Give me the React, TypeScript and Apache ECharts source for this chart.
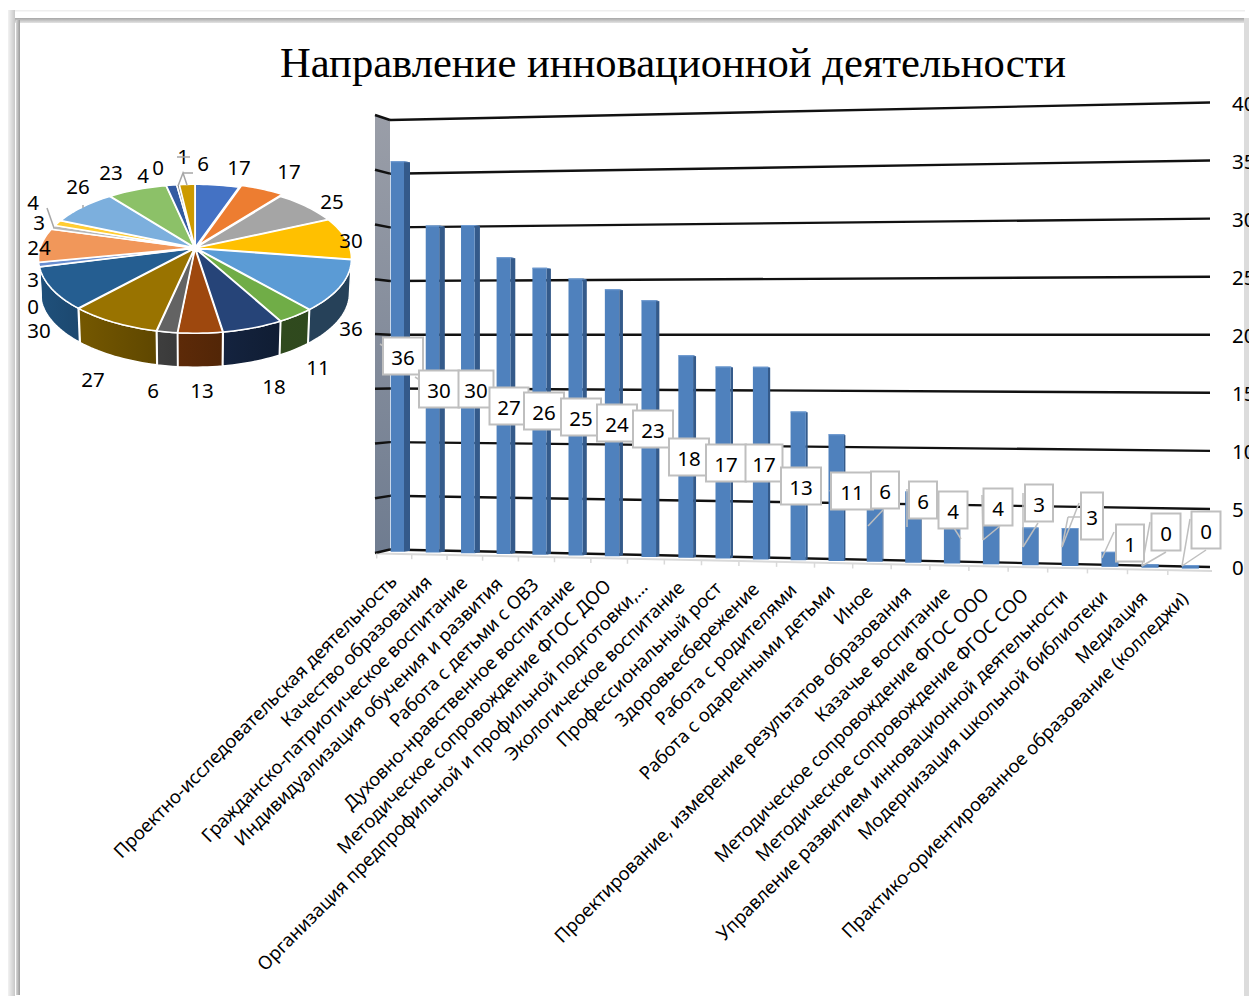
import React, { useEffect, useRef } from "react";
import * as echarts from "echarts";

const TITLE = "Направление инновационной деятельности";
const categories = [
  "Проектно-исследовательская деятельность",
  "Качество образования",
  "Гражданско-патриотическое воспитание",
  "Индивидуализация обучения и развития",
  "Работа с детьми с ОВЗ",
  "Духовно-нравственное воспитание",
  "Методическое сопровождение ФГОС ДОО",
  "Организация предпрофильной и профильной подготовки,…",
  "Экологическое воспитание",
  "Профессиональный рост",
  "Здоровьесбережение",
  "Работа с родителями",
  "Работа с одаренными детьми",
  "Иное",
  "Проектирование, измерение результатов образования",
  "Казачье воспитание",
  "Методическое сопровождение ФГОС ООО",
  "Методическое сопровождение ФГОС СОО",
  "Управление развитием инновационной деятельности",
  "Модернизация школьной библиотеки",
  "Медиация",
  "Практико-ориентированное образование (колледжи)",
];
const barValues = [36, 30, 30, 27, 26, 25, 24, 23, 18, 17, 17, 13, 11, 6, 6, 4, 4, 3, 3, 1, 0, 0];
const tickValues = [0, 5, 10, 15, 20, 25, 30, 35, 40];
const pieValues = [17, 17, 25, 30, 36, 11, 18, 13, 6, 27, 30, 0, 3, 24, 3, 4, 26, 23, 4, 0, 1, 6];
const pieColors = [
  "#4472C4", "#ED7D31", "#A5A5A5", "#FFC000", "#5B9BD5", "#70AD47", "#264478", "#9E480E", "#636363", "#997300", "#255E91",
  "#43682B", "#698ED0", "#F1975A", "#B7B7B7", "#FFCD33", "#7CAFDD", "#8CC168", "#335AA1", "#D26012", "#848484", "#CC9A00",
];

// layout of hand-placed label boxes (centre x, centre y, width, height)
const barLabelBoxes = [
  [403, 356, 40, 37], [439, 389, 40, 37], [476, 389, 35, 37], [509, 406, 39, 37], [544, 411, 40, 37], [581, 417, 40, 37],
  [617, 423, 40, 37], [653, 429, 40, 37], [689, 457, 40, 37], [726, 463, 40, 37], [764, 463, 37, 37], [801, 486, 40, 37],
  [852, 491, 42, 37], [885, 490, 28, 37], [923, 500, 28, 37], [953, 510, 29, 37], [998, 507, 29, 37], [1039, 503, 28, 37],
  [1092, 516, 22, 47], [1130, 543, 28, 37], [1166, 532, 29, 37], [1206, 530, 29, 37],
];
const barLeaders: number[][][] = [
  [[380, 344], [393, 352]], [[415, 377], [428, 385]], [[458, 380], [464, 384]], [[490, 387], [496, 392]], [[525, 398], [532, 402]],
  [[562, 404], [569, 408]], [[598, 410], [606, 414]], [[634, 416], [642, 420]], [[671, 446], [680, 451]], [[708, 452], [716, 458]],
  [[746, 452], [755, 458]], [[783, 474], [790, 478]], [[830, 490], [833, 498]],
  [[868, 526], [883, 510]], [[907, 527], [907, 489]], [[961, 539], [938, 503]], [[983, 540], [1000, 526]], [[982, 495], [983, 540]],
  [[1023, 547], [1038, 523]], [[1023, 493], [1023, 547]], [[1062, 547], [1079, 503]], [[1068, 517], [1081, 517]], [[1062, 547], [1068, 517]],
  [[1102, 558], [1114, 532]], [[1142, 566], [1166, 552]], [[1150, 522], [1142, 566]], [[1182, 566], [1206, 550]], [[1190, 519], [1182, 566]],
];
const pieLabelPos = [
  [239, 167], [289, 171], [332, 201], [351, 240], [351, 328], [318, 367], [274, 386], [202, 390], [153, 390], [93, 379], [39, 330],
  [33, 306], [33, 279], [39, 247], [39, 222], [33, 202], [78, 186], [111, 172], [143, 175], [158, 167], [183, 156], [203, 163],
];
const pieLeaders: number[][][] = [
  [[178, 186], [183, 173], [187, 185]], [[183, 173], [193, 173]], [[177, 157], [190, 157]], [[47, 208], [54, 228]], [[83, 205], [83, 208]],
];

const FONT = "'Noto Sans', sans-serif";
const GRID_L = 390, GRID_W = 820, GRID_T = 102.5, GRID_H = 464.5;
const LEFT_0 = 549.5, LEFT_40 = 120;
const RIGHT_0 = GRID_T + GRID_H;
const rgb = (hex: string, k: number) => {
  const n = parseInt(hex.slice(1), 16);
  return `rgb(${Math.round(((n >> 16) & 255) * k)},${Math.round(((n >> 8) & 255) * k)},${Math.round((n & 255) * k)})`;
};

// perspective of the bar chart's back wall: maps the value axis' pixel at the right end to a pixel at any x
const wallY = (x: number, yRight: number) => {
  const f = (RIGHT_0 - yRight) / GRID_H;
  const left = LEFT_0 + (LEFT_40 - LEFT_0) * f;
  const t = (x - GRID_L) / GRID_W;
  return left + (yRight - left) * t;
};
const slotOf = (u: number) => (u - GRID_L) / (GRID_W / categories.length) - 0.5;
const barX = (u: number) => {
  const s = slotOf(u);
  return 390.7 + 34.9 * s + 0.132 * s * s;
};

// pie projection
const PIE_CX = 195, PIE_CY = 248, PIE_A = 153, PIE_B = 72, PIE_K = 1 / 7, PIE_D = 34;
const total = pieValues.reduce((a, b) => a + b, 0);
const cum = pieValues.reduce<number[]>((acc, v) => [...acc, acc[acc.length - 1] + v], [0]);
const toAngle = (v: number) => (v / total) * Math.PI * 2;
const pt = (theta: number, r: number, ox = 0, oz = 0) => {
  const x = Math.sin(theta) * r + ox;
  const z = -Math.cos(theta) * r + oz;
  const s = 1 / (1 - PIE_K * z);
  return [PIE_CX + PIE_A * x * s, PIE_CY + PIE_B * z * s];
};
const arc = (a: number, b: number, r: number, ox = 0, oz = 0) => {
  const n = Math.max(2, Math.ceil((b - a) / 0.03));
  const out: number[][] = [];
  for (let i = 0; i <= n; i++) out.push(pt(a + ((b - a) * i) / n, r, ox, oz));
  return out;
};
const explodeOf = (i: number) => (i === 1 ? 0.05 : 0.012);
const frontFrom = (98 * Math.PI) / 180, frontTo = (262 * Math.PI) / 180;
const sideShade = (theta: number) => {
  const t = Math.min(1, Math.max(0, ((theta * 180) / Math.PI - 150) / 90));
  return 0.42 + 0.43 * t;
};

const renderPieSide = (params: any, api: any) => {
  const i = params.dataIndex;
  const a = toAngle(cum[i]), b = toAngle(cum[i + 1]);
  const s = Math.max(a, frontFrom), e = Math.min(b, frontTo);
  if (e <= s) return { type: "group", children: [] };
  const mid = (a + b) / 2;
  const ox = Math.sin(mid) * explodeOf(i), oz = -Math.cos(mid) * explodeOf(i);
  const top = arc(s, e, 1, ox, oz);
  const bottom = top.map((p) => [PIE_CX + (p[0] - PIE_CX) * 0.988, p[1] + PIE_D]).reverse();
  const c = pieColors[i];
  return {
    type: "polygon",
    shape: { points: [...top, ...bottom] },
    style: {
      fill: new echarts.graphic.LinearGradient(0, 0, 1, 0, [
        { offset: 0, color: rgb(c, sideShade(e)) },
        { offset: 1, color: rgb(c, sideShade(s)) },
      ]),
      stroke: "#ffffff",
      lineWidth: 1.5,
    },
  };
};
const renderPieTop = (params: any, api: any) => {
  const i = params.dataIndex;
  const a = toAngle(cum[i]), b = toAngle(api.value(0) + cum[i]);
  const mid = (a + b) / 2;
  const ox = Math.sin(mid) * explodeOf(i), oz = -Math.cos(mid) * explodeOf(i);
  const points = [pt(0, 0, ox, oz), ...arc(a, b, 1, ox, oz)];
  const [lx, ly] = pieLabelPos[i];
  return {
    type: "group",
    children: [
      ...(b > a
        ? [{ type: "polygon", shape: { points }, style: { fill: pieColors[i], stroke: "#ffffff", lineWidth: 1.5 } }]
        : []),
      {
        type: "text",
        x: lx,
        y: ly,
        z2: 10,
        style: { text: String(api.value(0)), font: `20.5px ${FONT}`, fill: "#000", align: "center", verticalAlign: "middle" },
      },
    ],
  };
};
const renderLeaders = (list: number[][][], color: string) => (params: any) => ({
  type: "polyline",
  shape: { points: list[params.dataIndex] },
  style: { fill: "none", stroke: color, lineWidth: 1.5 },
  z2: 5,
});

const renderGridLine = (params: any, api: any) => {
  const y = api.coord([0, api.value(1)])[1];
  const left = wallY(GRID_L, y);
  const f = (RIGHT_0 - y) / GRID_H;
  const outer = 553 + (115 - 553) * f;
  return {
    type: "group",
    children: [
      { type: "line", shape: { x1: GRID_L, y1: left, x2: GRID_L + GRID_W, y2: y }, style: { stroke: "#111", lineWidth: 2.4 } },
      { type: "line", shape: { x1: 375, y1: outer, x2: GRID_L, y2: left }, style: { stroke: "#111", lineWidth: 2.4 } },
    ],
  };
};
const renderBar = (params: any, api: any) => {
  const i = api.value(0);
  const u = api.coord([i, 0])[0];
  const s = slotOf(u);
  const x = barX(u);
  const w = 13.3 + s * 0.18;
  const d = Math.max(0.4, 6 - s * 0.38);
  const yTop = wallY(x + w / 2, api.coord([i, api.value(1)])[1]) - 1.5;
  const yBot = wallY(x + w / 2, api.coord([i, 0])[1]) + 2;
  return {
    type: "group",
    children: [
      { type: "polygon", shape: { points: [[x + w, yTop], [x + w + d, yTop + 1], [x + w + d, yBot - 1], [x + w, yBot]] }, style: { fill: "#345a8a" } },
      { type: "rect", shape: { x, y: yTop, width: w, height: yBot - yTop }, style: { fill: "#4f81bd" } },
      { type: "polygon", shape: { points: [[x, yTop], [x + w, yTop], [x + w + d, yTop + 1], [x + w, yTop + 1], [x, yTop + 1]] }, style: { fill: "#6f9bd1" } },
    ],
  };
};
const renderBarLabel = (params: any, api: any) => {
  const [cx, cy, w, h] = barLabelBoxes[params.dataIndex];
  return {
    type: "group",
    z2: 20,
    children: [
      { type: "rect", shape: { x: cx - w / 2, y: cy - h / 2, width: w, height: h }, style: { fill: "#fff", stroke: "#bfbfbf", lineWidth: 2 } },
      { type: "text", x: cx, y: cy + 1, style: { text: String(api.value(1)), font: `20.5px ${FONT}`, fill: "#000", align: "center", verticalAlign: "middle" } },
    ],
  };
};
const renderCategoryLabel = (params: any, api: any) => {
  const i = api.value(0);
  const u = api.coord([i, 0])[0];
  const x = barX(u);
  const base = wallY(x, api.coord([i, 0])[1]);
  return {
    type: "text",
    x: x + 2,
    y: base + 28,
    rotation: Math.PI / 4,
    style: { text: categories[i], font: `18.5px ${FONT}`, fill: "#000", align: "right", verticalAlign: "middle" },
  };
};
const renderAxisLine = (params: any, api: any) => {
  const i = api.value(0);
  const u = api.coord([i, 0])[0];
  const x = barX(u) - 14;
  const y = 553.5 + ((x - 377) / 835) * 17.5;
  return { type: "line", shape: { x1: x, y1: y, x2: x, y2: y + 5 }, style: { stroke: "#d9d9d9", lineWidth: 1.5 } };
};

const grad = (x2: number, y2: number, stops: string[]) =>
  new echarts.graphic.LinearGradient(0, 0, x2, y2, stops.map((color, i) => ({ offset: i / (stops.length - 1), color })));

export default function App() {
  const ref = useRef<HTMLDivElement>(null);
  useEffect(() => {
    document.body.style.margin = "0";
    const chart = echarts.init(ref.current!, null, { renderer: "svg" });
    const catData = categories.map((_, i) => [i, barValues[i]]);
    const custom = (renderItem: any, data: any[], extra: any = {}) => ({
      type: "custom",
      coordinateSystem: "cartesian2d",
      renderItem,
      data,
      silent: true,
      clip: false,
      ...extra,
    });
    chart.setOption({
      animation: false,
      backgroundColor: "#fff",
      title: {
        text: TITLE,
        left: 275,
        top: 36,
        textStyle: { fontFamily: "'Liberation Serif', serif", fontSize: 42.6, fontWeight: "normal", color: "#000" },
      },
      grid: { left: GRID_L, top: GRID_T, width: GRID_W, height: GRID_H, outerBoundsMode: "none" },
      xAxis: { type: "category", data: categories, show: false },
      yAxis: {
        type: "value",
        min: 0,
        max: 40,
        interval: 5,
        position: "right",
        splitLine: { show: false },
        axisLine: { show: false },
        axisTick: { show: false },
        z: 50,
        axisLabel: { margin: 22, color: "#000", fontSize: 20.5, fontFamily: FONT, align: "left" },
      },
      graphic: [
        // frame
        { type: "rect", silent: true, z: 0, shape: { x: 8, y: 10, width: 1237, height: 1.5 }, style: { fill: "#eeeeee" } },
        { type: "rect", silent: true, z: 0, shape: { x: 8, y: 18, width: 1237, height: 5 }, style: { fill: grad(0, 1, ["#a6a6a6", "#e4e4e4"]) } },
        { type: "rect", silent: true, z: 0, shape: { x: 8, y: 10, width: 7, height: 986 }, style: { fill: grad(1, 0, ["#f2f2f2", "#c8c8c8"]) } },
        { type: "rect", silent: true, z: 0, shape: { x: 16, y: 20, width: 4, height: 975 }, style: { fill: grad(1, 0, ["#d9d9d9", "#9a9a9a"]) } },
        { type: "rect", silent: true, z: 0, shape: { x: 1244, y: 18, width: 5, height: 978 }, style: { fill: "#dcdcdc" } },
        // side wall
        {
          type: "polygon",
          silent: true,
          z: 0,
          shape: { points: [[375, 115], [390, 120], [390, 549.5], [375, 553]] },
          style: { fill: grad(0, 1, ["#9a9ea8", "#6f7c90"]) },
        },
        // axis base line
        { type: "line", silent: true, z: 0, shape: { x1: 377, y1: 553.5, x2: 1212, y2: 571 }, style: { stroke: "#d9d9d9", lineWidth: 2 } },
      ],
      series: [
        custom(renderGridLine, tickValues.map((v) => [0, v])),
        custom(renderAxisLine, catData),
        custom(renderBar, catData, { encode: { x: 0, y: 1 } }),
        custom(renderCategoryLabel, catData),
        custom(renderLeaders(barLeaders, "#bfbfbf"), barLeaders.map((_, i) => [i, 0]), { z: 3 }),
        custom(renderBarLabel, catData, { z: 4 }),
        { type: "custom", coordinateSystem: "none", renderItem: renderPieSide, data: pieValues.map((v) => [v]), silent: true },
        { type: "custom", coordinateSystem: "none", renderItem: renderPieTop, data: pieValues.map((v) => [v]), silent: true, z: 3 },
        { type: "custom", coordinateSystem: "none", renderItem: renderLeaders(pieLeaders, "#a6a6a6"), data: pieLeaders.map((_, i) => [i]), silent: true, z: 4 },
      ],
    });
    return () => chart.dispose();
  }, []);
  return <div ref={ref} style={{ position: "absolute", left: 0, top: 0, width: 1249, height: 996 }} />;
}
